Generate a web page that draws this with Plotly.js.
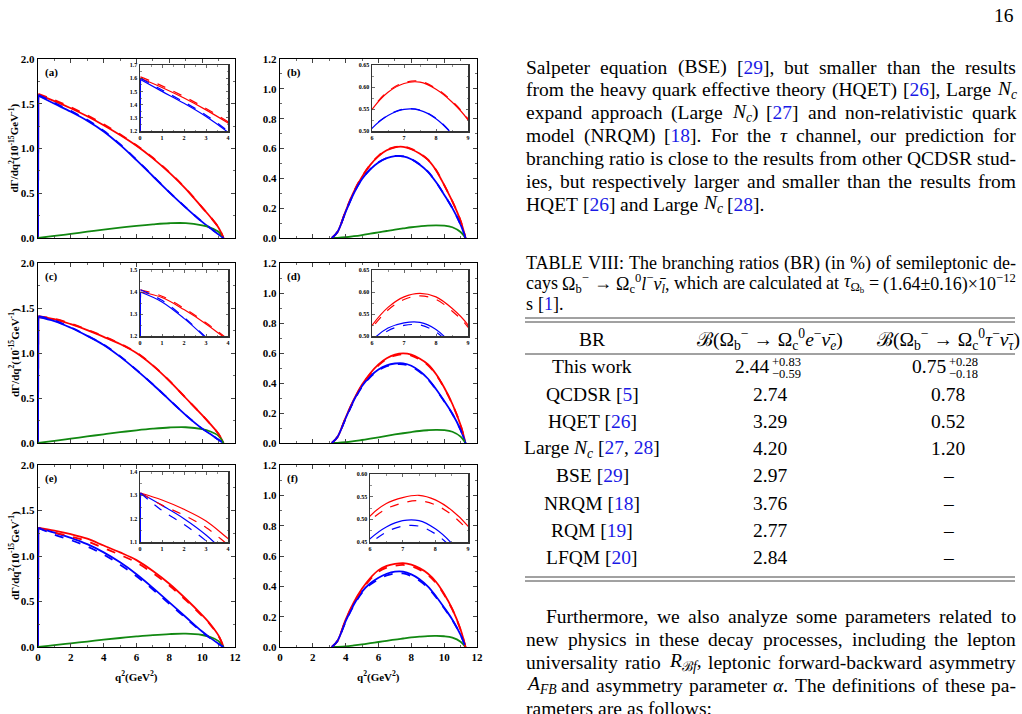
<!DOCTYPE html>
<html><head><meta charset="utf-8">
<script src="https://cdn.plot.ly/plotly-3.0.1.min.js"></script>
<style>
html,body{margin:0;padding:0;background:#fff;}
#chart{width:1022px;height:714px;}
#meas{position:absolute;left:-9999px;top:0;white-space:nowrap;font-family:'Liberation Serif';}
#meas sub,#meas sup{font-size:70%;line-height:0;}
</style></head><body>
<div id="chart"></div><span id="meas"></span>
<script>
// ---------------- data ----------------
const qE = [0, 0.02, 1, 2, 3, 4, 5, 6, 7, 8, 9, 10, 10.5, 11, 11.3];
const redA      = [0, 1.60, 1.53, 1.45, 1.36, 1.26, 1.15, 1.03, 0.89, 0.73, 0.55, 0.34, 0.235, 0.115, 0];
const redDashA  = [0, 1.61, 1.542, 1.461, 1.371, 1.27, 1.158, 1.037, 0.896, 0.735, 0.553, 0.342, 0.236, 0.115, 0];
const blueA     = [0, 1.59, 1.50, 1.41, 1.31, 1.19, 1.04, 0.87, 0.69, 0.51, 0.34, 0.18, 0.11, 0.04, 0];
const blueDashA = [0, 1.60, 1.511, 1.42, 1.32, 1.198, 1.047, 0.875, 0.694, 0.513, 0.342, 0.181, 0.11, 0.04, 0];
const greenA    = [0, 0.0005, 0.023, 0.046, 0.07, 0.093, 0.115, 0.135, 0.152, 0.165, 0.166, 0.14, 0.115, 0.07, 0];

const redC      = [0, 1.40, 1.375, 1.32, 1.255, 1.18, 1.10, 1.00, 0.86, 0.69, 0.50, 0.31, 0.21, 0.10, 0];
const redDashC  = [0, 1.41, 1.381, 1.326, 1.26, 1.185, 1.104, 1.004, 0.863, 0.692, 0.502, 0.311, 0.211, 0.10, 0];
const blueC     = [0, 1.40, 1.355, 1.28, 1.19, 1.09, 0.96, 0.81, 0.65, 0.48, 0.31, 0.16, 0.10, 0.035, 0];
const blueDashC = [0, 1.41, 1.362, 1.285, 1.194, 1.093, 0.963, 0.812, 0.651, 0.481, 0.311, 0.16, 0.10, 0.035, 0];
const greenC    = [0, 0.0005, 0.024, 0.048, 0.073, 0.097, 0.12, 0.141, 0.159, 0.172, 0.175, 0.155, 0.128, 0.08, 0];

const redE      = [0, 1.31, 1.28, 1.24, 1.19, 1.115, 1.04, 0.955, 0.835, 0.695, 0.53, 0.35, 0.25, 0.125, 0];
const redDashE  = [0, 1.31, 1.258, 1.215, 1.162, 1.088, 1.012, 0.928, 0.811, 0.675, 0.515, 0.34, 0.243, 0.121, 0];
const blueE     = [0, 1.31, 1.257, 1.20, 1.13, 1.04, 0.93, 0.80, 0.65, 0.49, 0.33, 0.17, 0.10, 0.035, 0];
const blueDashE = [0, 1.31, 1.235, 1.175, 1.105, 1.015, 0.905, 0.778, 0.632, 0.475, 0.318, 0.162, 0.095, 0.032, 0];
const greenE    = [0, 0.0005, 0.02, 0.04, 0.06, 0.08, 0.099, 0.116, 0.131, 0.142, 0.146, 0.132, 0.11, 0.065, 0];

const qT = [3.16, 3.5, 4, 4.5, 5, 5.5, 6, 6.5, 7, 7.5, 8, 8.5, 9, 9.5, 10, 10.5, 11, 11.3];
const redB      = [0, 0.04, 0.18, 0.31, 0.41, 0.49, 0.549, 0.588, 0.608, 0.611, 0.595, 0.566, 0.525, 0.455, 0.355, 0.245, 0.115, 0];
const redDashB  = [0, 0.04, 0.181, 0.312, 0.412, 0.492, 0.551, 0.59, 0.61, 0.613, 0.597, 0.568, 0.527, 0.457, 0.356, 0.246, 0.115, 0];
const blueB     = [0, 0.04, 0.175, 0.30, 0.395, 0.46, 0.506, 0.535, 0.549, 0.547, 0.528, 0.493, 0.445, 0.375, 0.29, 0.2, 0.09, 0];
const blueDashB = [0, 0.04, 0.176, 0.301, 0.396, 0.461, 0.507, 0.536, 0.55, 0.548, 0.529, 0.494, 0.446, 0.376, 0.291, 0.2, 0.09, 0];
const greenB    = [0, 0.001, 0.005, 0.012, 0.02, 0.029, 0.038, 0.047, 0.056, 0.064, 0.072, 0.078, 0.083, 0.085, 0.083, 0.072, 0.04, 0];

const redD      = [0, 0.04, 0.17, 0.29, 0.39, 0.465, 0.524, 0.565, 0.589, 0.597, 0.589, 0.563, 0.525, 0.46, 0.37, 0.26, 0.12, 0];
const redDashD  = [0, 0.04, 0.168, 0.286, 0.385, 0.459, 0.518, 0.559, 0.583, 0.591, 0.583, 0.557, 0.52, 0.456, 0.367, 0.258, 0.119, 0];
const blueD     = [0, 0.04, 0.165, 0.285, 0.38, 0.445, 0.49, 0.518, 0.530, 0.531, 0.515, 0.48, 0.43, 0.36, 0.28, 0.195, 0.088, 0];
const blueDashD = [0, 0.04, 0.163, 0.281, 0.375, 0.44, 0.484, 0.512, 0.524, 0.525, 0.509, 0.475, 0.426, 0.357, 0.278, 0.193, 0.087, 0];
const greenD    = [0, 0.001, 0.005, 0.012, 0.02, 0.029, 0.038, 0.048, 0.057, 0.065, 0.073, 0.08, 0.085, 0.088, 0.086, 0.075, 0.042, 0];

const redF      = [0, 0.04, 0.18, 0.295, 0.385, 0.455, 0.507, 0.535, 0.548, 0.553, 0.543, 0.52, 0.485, 0.43, 0.35, 0.25, 0.115, 0];
const redDashF  = [0, 0.04, 0.177, 0.29, 0.378, 0.446, 0.496, 0.523, 0.536, 0.541, 0.532, 0.51, 0.475, 0.422, 0.344, 0.246, 0.113, 0];
const blueF     = [0, 0.04, 0.17, 0.28, 0.365, 0.42, 0.457, 0.483, 0.497, 0.497, 0.479, 0.447, 0.40, 0.335, 0.26, 0.18, 0.08, 0];
const blueDashF = [0, 0.04, 0.167, 0.275, 0.358, 0.411, 0.446, 0.472, 0.485, 0.485, 0.468, 0.437, 0.392, 0.328, 0.255, 0.177, 0.079, 0];
const greenF    = [0, 0.001, 0.004, 0.01, 0.017, 0.025, 0.033, 0.041, 0.049, 0.056, 0.063, 0.068, 0.072, 0.073, 0.071, 0.062, 0.035, 0];

const panelLabels = ['(a)', '(b)', '(c)', '(d)', '(e)', '(f)'];
const insetXRanges = [[0,4],[6,9],[0,4],[6,9],[0,4],[6,9]];
const insetYRanges = [[1.2,1.7],[0.5,0.65],[1.2,1.5],[0.5,0.65],[1.1,1.4],[0.45,0.6]];

// table
const tblHeader = ['BR', 'ℬ(Ω<sub>b</sub><sup>−</sup> → Ω<sub>c</sub><sup>0</sup><i>e</i><sup>−</sup><i>ν̄</i><sub><i>e</i></sub>)', 'ℬ(Ω<sub>b</sub><sup>−</sup> → Ω<sub>c</sub><sup>0</sup><i>τ</i><sup>−</sup><i>ν̄</i><sub><i>τ</i></sub>)'];
const tblMethods = ['This work', 'QCDSR [@5]', 'HQET [@26]', 'Large {Nc} [@27, @28]', 'BSE [@29]', 'NRQM [@18]', 'RQM [@19]', 'LFQM [@20]'];
const tblElectron = ['2.44', '2.74', '3.29', '4.20', '2.97', '3.76', '2.77', '2.84'];
const tblTau = ['0.75', '0.78', '0.52', '1.20', '–', '–', '–', '–'];
const errElectron = ['+0.83', '−0.59'];
const errTau = ['+0.28', '−0.18'];

// ---------------- helpers ----------------
const W = 1022, H = 714;
const px = x => x / W, py = y => 1 - y / H;
const SERIF = 'Liberation Serif, Times New Roman, serif';
const RED = '#ff0000', BLUE = '#0000ff', GREEN = '#118811', REF = '#1a1ae6';

const colsX = [[38,235],[280,477]];
const rowsY = [[59,238],[263,443],[465,647]];
const insetBoxes = [[140,228,65,131],[372,468,65,131],[140,228,270,336],[372,468,270,336],[140,228,472,542],[370,468,474,542]];

const panels = [
  {q:qE, e:true, s:[redA, redDashA, blueA, blueDashA, greenA]},
  {q:qT, e:false, s:[redB, redDashB, blueB, blueDashB, greenB]},
  {q:qE, e:true, s:[redC, redDashC, blueC, blueDashC, greenC]},
  {q:qT, e:false, s:[redD, redDashD, blueD, blueDashD, greenD]},
  {q:qE, e:true, s:[redE, redDashE, blueE, blueDashE, greenE]},
  {q:qT, e:false, s:[redF, redDashF, blueF, blueDashF, greenF]}
];

const layout = {
  width: W, height: H, margin: {l:0, r:0, t:0, b:0},
  paper_bgcolor: '#fff', plot_bgcolor: 'rgba(0,0,0,0)', showlegend: false,
  annotations: [], shapes: []
};
const traces = [];
const an = (n) => n === 1 ? '' : String(n);

function tickFont(size) { return {family: SERIF, size: size, color: '#000', weight: 'bold'}; }

panels.forEach((p, i) => {
  const n = i + 1, m = i + 7;
  const col = i % 2, row = Math.floor(i / 2);
  const bottom = row === 2;
  layout['xaxis' + an(n)] = {
    domain: [px(colsX[col][0]), px(colsX[col][1])], range: [0, 12], anchor: 'y' + an(n),
    showline: true, mirror: 'allticks', linecolor: '#000', linewidth: 1.2,
    ticks: 'inside', ticklen: 4, tickwidth: 1, tick0: 0, dtick: 2,
    minor: {dtick: 1, ticklen: 2, ticks: 'inside', tickwidth: 0.8},
    showticklabels: bottom, tickfont: tickFont(11), showgrid: false, zeroline: false
  };
  layout['yaxis' + an(n)] = {
    domain: [py(rowsY[row][1]), py(rowsY[row][0])], range: col === 0 ? [0, 2] : [0, 1.2], anchor: 'x' + an(n),
    showline: true, mirror: 'allticks', linecolor: '#000', linewidth: 1.2,
    ticks: 'inside', ticklen: 4, tickwidth: 1, tick0: 0, dtick: col === 0 ? 0.5 : 0.2,
    minor: {dtick: col === 0 ? 0.25 : 0.1, ticklen: 2, ticks: 'inside', tickwidth: 0.8},
    tickformat: '.1f', tickfont: tickFont(11), showgrid: false, zeroline: false
  };
  const b = insetBoxes[i];
  layout['xaxis' + m] = {
    domain: [px(b[0]), px(b[1])], range: insetXRanges[i], anchor: 'y' + m,
    showline: true, mirror: 'allticks', linecolor: '#333', linewidth: 1.5,
    ticks: 'inside', ticklen: 2.5, tickwidth: 0.8, dtick: 1,
    minor: {dtick: 0.5, ticklen: 1.5, ticks: 'inside', tickwidth: 0.6},
    tickfont: tickFont(6), showgrid: false, zeroline: false, ticklabelstandoff: 0
  };
  const yr = insetYRanges[i];
  const yd = (i % 2 === 0) ? 0.1 : 0.05;
  layout['yaxis' + m] = {
    domain: [py(b[3]), py(b[2])], range: yr, anchor: 'x' + m,
    showline: true, mirror: 'allticks', linecolor: '#333', linewidth: 1.5,
    ticks: 'inside', ticklen: 2.5, tickwidth: 0.8, tick0: 0, dtick: yd,
    minor: {dtick: yd / 2, ticklen: 1.5, ticks: 'inside', tickwidth: 0.6},
    tickformat: (i % 2 === 0) ? '.1f' : '.2f', tickfont: tickFont(6), showgrid: false, zeroline: false
  };

  [[n, 1.8], [m, 1.2]].forEach(([ax, lw]) => {
    const style = [[RED, 'solid'], [RED, 'dash'], [BLUE, 'solid'], [BLUE, 'dash'], [GREEN, 'solid']];
    const order = [0, 2, 4, 1, 3];
    order.forEach(k => {
      const ys = p.s[k];
      const start = (p.e && k < 4) ? 1 : 0;
      traces.push({
        x: p.q.slice(start), y: ys.slice(start), xaxis: 'x' + an(ax), yaxis: 'y' + an(ax),
        mode: 'lines', line: {color: style[k][0], width: lw, dash: style[k][1], shape: 'spline', smoothing: 1},
        hoverinfo: 'skip'
      });
      if (p.e && k < 4 && k % 2 === 0) {
        traces.push({
          x: p.q.slice(0, 2), y: ys.slice(0, 2), xaxis: 'x' + an(ax), yaxis: 'y' + an(ax),
          mode: 'lines', line: {color: style[k][0], width: lw}, hoverinfo: 'skip'
        });
      }
    });
  });

  layout.annotations.push({text: panelLabels[i], x: px(colsX[col][0] + 5), y: py(rowsY[row][0] + 14),
    xref: 'paper', yref: 'paper', xanchor: 'left', yanchor: 'middle', showarrow: false,
    font: {family: SERIF, size: 11, color: '#000', weight: 'bold'}});
  if (col === 0) {
    layout.annotations.push({text: 'dΓ/dq<sup>2</sup>(10<sup>-15</sup>GeV<sup>-1</sup>)', textangle: -90,
      x: px(14), y: py((rowsY[row][0] + rowsY[row][1]) / 2), xref: 'paper', yref: 'paper',
      xanchor: 'center', yanchor: 'middle', showarrow: false,
      font: {family: SERIF, size: 11, color: '#000', weight: 'bold'}});
  }
  if (bottom) {
    layout.annotations.push({text: 'q<sup>2</sup>(GeV<sup>2</sup>)',
      x: px((colsX[col][0] + colsX[col][1]) / 2), y: py(676), xref: 'paper', yref: 'paper',
      xanchor: 'center', yanchor: 'middle', showarrow: false,
      font: {family: SERIF, size: 11, color: '#000', weight: 'bold'}});
  }
});

// ---------------- text ----------------
const meas = document.getElementById('meas');
function measure(html, size) {
  meas.style.fontSize = size + 'px';
  meas.innerHTML = html;
  return meas.getBoundingClientRect().width;
}
function fmt(s) {
  return s.replace(/@(\d+)/g, '<span style="color:' + REF + '">$1</span>')
          .replace(/\{Nc\}/g, '<i>N</i><sub><i>c</i></sub>')
          .replace(/\{tau\}/g, '<i>τ</i>')
          .replace(/\{RB\}/g, '<i>R</i><sub>ℬ<i>f</i></sub>')
          .replace(/\{AFB\}/g, '<i>A</i><sub><i>FB</i></sub>')
          .replace(/\{alpha\}/g, '<i>α</i>');
}
function txt(text, x, y, size, xanchor) {
  layout.annotations.push({text: text, x: px(x), y: py(y), xref: 'paper', yref: 'paper',
    xanchor: xanchor || 'left', yanchor: 'middle', showarrow: false, borderpad: 0,
    font: {family: SERIF, size: size, color: '#000'}});
}
function line(words, x0, x1, y, size, justify) {
  const ws = words.map(w => measure(w, size));
  const total = ws.reduce((a, b) => a + b, 0);
  const sp = measure('a&nbsp;a', size) - measure('aa', size);
  const gap = (justify && words.length > 1) ? (x1 - x0 - total) / (words.length - 1) : sp;
  let x = x0;
  words.forEach((w, k) => { txt(w, x, y, size, 'left'); x += ws[k] + gap; });
}
function para(lines, x0, x1, y0, dy, size, firstIndent) {
  lines.forEach((l, k) => {
    const words = (typeof l === 'string') ? l.split(' ').map(fmt) : l;
    const last = k === lines.length - 1;
    line(words, x0 + (k === 0 ? (firstIndent || 0) : 0), x1, y0 + k * dy, size, !last);
  });
}

const L = 525, R = 1015, BODY = 19.5;
para([
  'Salpeter equation (BSE) [@29], but smaller than the results',
  'from the heavy quark effective theory (HQET) [@26], Large {Nc}',
  'expand approach (Large {Nc}) [@27] and non-relativistic quark',
  'model (NRQM) [@18]. For the {tau} channel, our prediction for',
  'branching ratio is close to the results from other QCDSR stud-',
  'ies, but respectively larger and smaller than the results from',
  'HQET [@26] and Large {Nc} [@28].'
], L, R, 67, 22.9, BODY, 0);

para([
  'TABLE VIII: The branching ratios (BR) (in %) of semileptonic de-',
  ['cays', 'Ω<sub>b</sub><sup>−</sup>', '→', 'Ω<sub>c</sub><sup>0</sup><i>l</i><sup>−</sup><i>ν̄</i><sub><i>l</i></sub>,', 'which', 'are', 'calculated', 'at', '<i>τ</i><sub>Ω<sub>b</sub></sub>', '=', '(1.64±0.16)×10<sup>−12</sup>'],
  's [@1].'
], L, R, 263, 20.5, 18, 0);

para([
  'Furthermore, we also analyze some parameters related to',
  'new physics in these decay processes, including the lepton',
  'universality ratio {RB}, leptonic forward-backward asymmetry',
  '{AFB} and asymmetry parameter {alpha}. The definitions of these pa-',
  'rameters are as follows:'
], L, R, 616, 23.1, BODY, 20);

txt('16', 1015, 15, BODY, 'right');

// table
const colC = [592, 770, 948];
const headY = 339, rowY0 = 367, rowDy = 27.2;
tblHeader.forEach((h, k) => txt(h, colC[k], headY, BODY, 'center'));
tblMethods.forEach((mth, r) => {
  const y = rowY0 + r * rowDy;
  txt(fmt(mth), colC[0], y, BODY, 'center');
  if (r === 0) {
    txt(tblElectron[r], 770, y, BODY, 'right');
    txt(errElectron[0], 771, y - 5, 12.5, 'left');
    txt(errElectron[1], 771, y + 7, 12.5, 'left');
    txt(tblTau[r], 947, y, BODY, 'right');
    txt(errTau[0], 948, y - 5, 12.5, 'left');
    txt(errTau[1], 948, y + 7, 12.5, 'left');
  } else {
    txt(tblElectron[r], colC[1], y, BODY, 'center');
    txt(tblTau[r], colC[2], y, BODY, 'center');
  }
});
[318, 322, 354, 577, 581].forEach(yy => {
  layout.shapes.push({type: 'line', xref: 'paper', yref: 'paper', x0: px(L), x1: px(R), y0: py(yy), y1: py(yy),
    line: {color: '#444', width: 1}});
});
meas.innerHTML = '';
meas.style.display = 'none';

Plotly.newPlot('chart', traces, layout, {displayModeBar: false, staticPlot: true});
</script>
</body></html>
